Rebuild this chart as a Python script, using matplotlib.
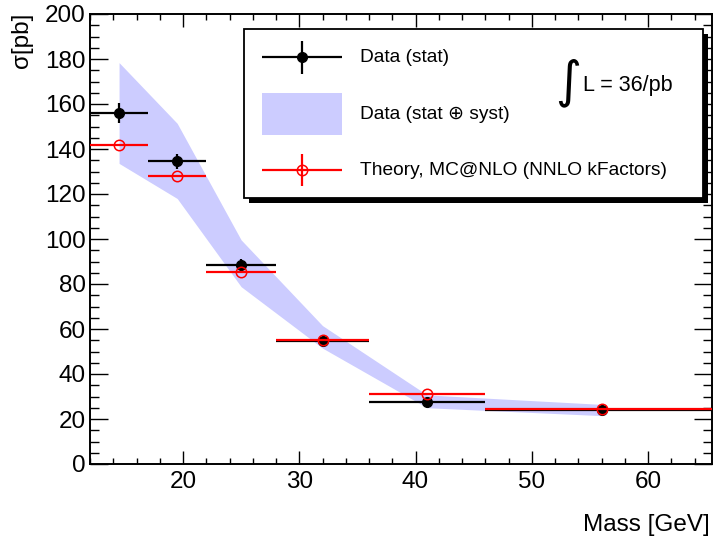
import matplotlib
matplotlib.use("Agg")
import matplotlib.pyplot as plt
from matplotlib.patches import Rectangle, Patch
from matplotlib.container import ErrorbarContainer
from matplotlib.legend_handler import HandlerErrorbar, HandlerPatch
from matplotlib.ticker import MultipleLocator

plt.rcParams['font.family'] = ['Liberation Sans', 'DejaVu Sans']

# Mass bins [GeV]
bin_lo = [12, 17, 22, 28, 36, 46]
bin_hi = [17, 22, 28, 36, 46, 66]
mass = [14.5, 19.5, 25, 32, 41, 56]

# Measured cross section [pb] with statistical errors
data_xsec = [156, 134.5, 88.5, 54.5, 27.5, 24]
data_stat = [4.3, 3.5, 2.5, 1.5, 1.0, 0.7]

# Total (stat + syst) band edges [pb]
band_low = [133.6, 118, 78.8, 51.5, 25, 21.5]
band_high = [178.4, 151.4, 99.6, 61.5, 30.7, 26.5]

# MC@NLO prediction with NNLO k-factors [pb]
theory_xsec = [142, 128, 85.5, 55, 31, 24.5]
theory_err = [0, 0, 0, 0, 0, 0]

xerr_lo = [m - lo for m, lo in zip(mass, bin_lo)]
xerr_hi = [hi - m for m, hi in zip(mass, bin_hi)]

W, H = 713, 544
fig = plt.figure(figsize=(W / 100, H / 100), dpi=100)
ax = fig.add_axes([90 / W, 1 - 464 / H, (712 - 90) / W, (464 - 14) / H])

band_color = '#ccccff'
ax.fill_between(mass, band_low, band_high, color=band_color, lw=0, zorder=1)

data_eb = ax.errorbar(mass, data_xsec, yerr=data_stat, xerr=[xerr_lo, xerr_hi],
                      fmt='o', color='black', ms=7, elinewidth=1.6, capsize=0,
                      zorder=3)
theo_eb = ax.errorbar(mass, theory_xsec, yerr=theory_err, xerr=[xerr_lo, xerr_hi],
                      fmt='o', color='red', mfc='none', mec='red', mew=1.1, ms=7.5,
                      elinewidth=1.6, capsize=0, zorder=4)

ax.set_xlim(12, 65.5)
ax.set_ylim(0, 200)
ax.xaxis.set_major_locator(MultipleLocator(10))
ax.xaxis.set_minor_locator(MultipleLocator(2))
ax.yaxis.set_major_locator(MultipleLocator(20))
ax.yaxis.set_minor_locator(MultipleLocator(5))

ax.tick_params(which='both', direction='in', top=True, right=True,
               labelsize=17.5, colors='black')
ax.tick_params(axis='y', which='major', length=13, width=1.0, pad=3)
ax.tick_params(axis='y', which='minor', length=6.5, width=1.0)
ax.tick_params(axis='x', which='major', length=9.5, width=1.0, pad=5)
ax.tick_params(axis='x', which='minor', length=4.5, width=1.0)
for sp in ax.spines.values():
    sp.set_linewidth(1.4)

fig.text(22 / W, 1 - 13 / H, 'σ[pb]', rotation=90, ha='center', va='top',
         fontsize=17.5)
fig.text(710 / W, 1 - 525 / H, 'Mass [GeV]', ha='right', va='center',
         fontsize=17.5)

fs = 13.0
half_patch = 28.8   # points
patch_h = 30.2      # points
drop = 5.8          # points: lowers legend handles onto the text line


class CentredErrorbar(HandlerErrorbar):
    def create_artists(self, legend, orig_handle, xdescent, ydescent,
                       width, height, fontsize, trans):
        return super().create_artists(legend, orig_handle, xdescent,
                                      ydescent + 2 * drop, width, height,
                                      fontsize, trans)


def narrow_patch(legend, orig_handle, xdescent, ydescent, width, height, fontsize):
    cx = width / 2 - xdescent
    cy = (height - ydescent) / 2 - drop
    return Rectangle((cx - half_patch, cy - patch_h / 2), 2 * half_patch, patch_h)


handles = [data_eb, Patch(facecolor=band_color, edgecolor='none'), theo_eb]
labels = ['Data (stat)', 'Data (stat \u2295 syst)', 'Theory, MC@NLO (NNLO kFactors)']
leg_top = 1 - 29 / H
leg = ax.legend(
    handles, labels,
    loc='upper left', mode='expand',
    bbox_to_anchor=(244 / W, leg_top - 0.1, 459 / W, 0.1),
    bbox_transform=fig.transFigure, borderaxespad=0,
    fontsize=fs, frameon=True, fancybox=False, edgecolor='black',
    framealpha=1, borderpad=0.39, handlelength=5.65, handleheight=3.2,
    handletextpad=0.39, labelspacing=0.8, numpoints=1,
    handler_map={
        ErrorbarContainer: CentredErrorbar(xerr_size=2.21, yerr_size=0.91),
        Patch: HandlerPatch(patch_func=narrow_patch),
    })
for t in leg.get_texts():
    t.set_fontsize(13.8)
leg.get_frame().set_linewidth(1.3)
leg.set_zorder(6)

# Drop shadow under the legend box
fig.canvas.draw()
bb = leg.get_window_extent()
shift = 5
shadow = Rectangle(((bb.x0 + shift) / W, (bb.y0 - shift) / H),
                   bb.width / W, bb.height / H, transform=fig.transFigure,
                   facecolor='black', edgecolor='none', clip_on=False, zorder=5.5)
ax.add_artist(shadow)

# Integrated luminosity
ax.text(568 / W, 1 - 83 / H, '\u222b', transform=fig.transFigure,
        ha='center', va='center', fontsize=36, family=['DejaVu Sans'], zorder=7)
ax.text(583 / W, 1 - 86 / H, 'L = 36/pb', transform=fig.transFigure,
        ha='left', va='center', fontsize=15.5, zorder=7)

fig.savefig('out.png', dpi=100)
